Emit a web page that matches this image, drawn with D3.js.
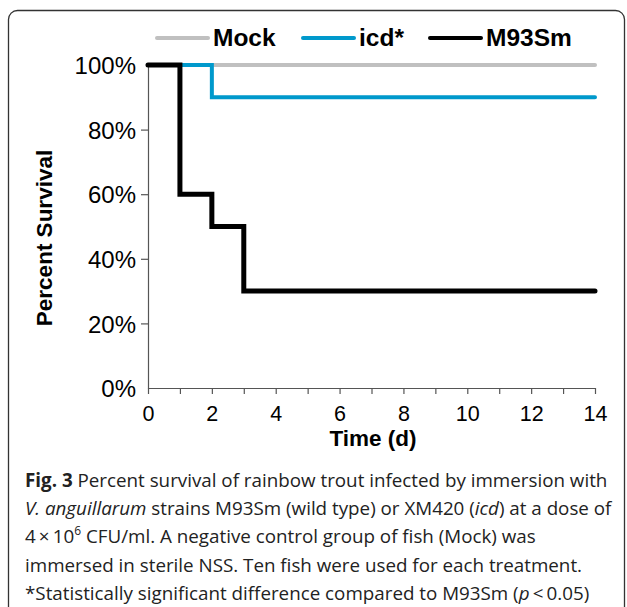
<!DOCTYPE html>
<html>
<head>
<meta charset="utf-8">
<script src="https://cdn.jsdelivr.net/npm/d3@7"></script>
<style>
  body { margin: 0; background: #fff; }
  svg { display: block; }
</style>
</head>
<body>
<div id="chart"></div>
<script>
// survival data, step curves (day, percent)
const days = [0, 1, 2, 3, 14];
const mock = [100, 100, 100, 100, 100];
const icd = [100, 100, 90, 90, 90];
const m93 = [100, 60, 50, 30, 30];
const seriesNames = ["Mock", "icd*", "M93Sm"];
const seriesColors = ["#c0c0c0", "#0099cc", "#000000"];
const xTickLabels = [0, 2, 4, 6, 8, 10, 12, 14];
const yTickLabels = [0, 20, 40, 60, 80, 100];

const captionLines = [
  [["Fig. 3", "b"], [" Percent survival of rainbow trout infected by immersion with", ""]],
  [["V. anguillarum", "i"], [" strains M93Sm (wild type) or XM420 (", ""], ["icd", "i"], [") at a dose of", ""]],
  [["4\u2009\u00d7\u200910", ""], ["6", "sup"], [" CFU/ml. A negative control group of fish (Mock) was", ""]],
  [["immersed in sterile NSS. Ten fish were used for each treatment.", ""]],
  [["*Statistically significant difference compared to M93Sm (", ""], ["p", "i"], ["\u2009<\u20090.05)", ""]]
];

const W = 627, H = 607;
const margin = {top: 65, right: 32, bottom: 219, left: 148};
const width = W - margin.left - margin.right,
      height = H - margin.top - margin.bottom;
const font = "'Liberation Sans', Arial, sans-serif";

const svg = d3.select("#chart").append("svg")
    .attr("width", W)
    .attr("height", H);

// frame
svg.append("rect")
    .attr("x", 8.5).attr("y", 10.5)
    .attr("width", 616).attr("height", 610)
    .attr("rx", 9)
    .attr("fill", "none")
    .attr("stroke", "#333")
    .attr("stroke-width", 1.3);

const g = svg.append("g")
    .attr("transform", "translate(" + margin.left + "," + margin.top + ")");

const x = d3.scaleLinear().domain([0, 14]).range([0, width]);
const y = d3.scaleLinear().domain([0, 100]).range([height, 0]);

// axes
const xAxis = g.append("g")
    .attr("transform", "translate(0," + height + ")")
    .call(d3.axisBottom(x).tickValues(d3.range(0, 15)).tickSize(6).tickSizeOuter(0)
      .tickFormat(d => xTickLabels.includes(d) ? d : ""));
const yAxis = g.append("g")
    .call(d3.axisLeft(y).tickValues(yTickLabels).tickSize(7).tickSizeOuter(0)
      .tickFormat(d => d + "%"));

[xAxis, yAxis].forEach(a => {
  a.select(".domain").attr("stroke", "#555").attr("stroke-width", 1.2);
  a.selectAll(".tick line").attr("stroke", "#555").attr("stroke-width", 1.2);
  a.selectAll("text")
    .attr("fill", "#000")
    .style("font-family", font)
    .style("font-size", "21.5px");
});
xAxis.selectAll("text").attr("dy", null).attr("y", 33);
yAxis.selectAll("text").attr("x", -12).attr("dy", "0.36em").style("font-size", "24px");
yAxis.selectAll(".tick").filter(d => d === 0 || d === 100).select("line").attr("stroke-width", 0);

// lines
const line = d3.line()
    .x(d => x(d[0]))
    .y(d => y(d[1]))
    .curve(d3.curveStepAfter);

const series = [mock, icd, m93];
const widths = [4, 4, 5];
series.forEach((vals, i) => {
  g.append("path")
    .datum(days.map((d, j) => [d, vals[j]]))
    .attr("fill", "none")
    .attr("stroke", seriesColors[i])
    .attr("stroke-width", widths[i])
    .attr("stroke-linecap", "round")
    .attr("d", line);
});

// axis titles
svg.append("text")
    .attr("x", 373)
    .attr("y", 446)
    .attr("text-anchor", "middle")
    .style("font-family", font)
    .style("font-weight", "bold")
    .style("font-size", "22.5px")
    .text("Time (d)");

svg.append("text")
    .attr("transform", "translate(52,238) rotate(-90)")
    .attr("text-anchor", "middle")
    .style("font-family", font)
    .style("font-weight", "bold")
    .style("font-size", "22.5px")
    .text("Percent Survival");

// legend
const legendX = [157, 303, 430];
const legend = svg.append("g");
seriesNames.forEach((name, i) => {
  legend.append("line")
    .attr("x1", legendX[i]).attr("x2", legendX[i] + 51)
    .attr("y1", 38).attr("y2", 38)
    .attr("stroke", seriesColors[i])
    .attr("stroke-width", 4)
    .attr("stroke-linecap", "round");
  legend.append("text")
    .attr("x", legendX[i] + 56)
    .attr("y", 46)
    .style("font-family", font)
    .style("font-weight", "bold")
    .style("font-size", "24.5px")
    .text(name);
});

// caption
const cap = svg.append("g")
    .style("font-family", "'Open Sans', sans-serif")
    .style("font-size", "18.8px")
    .attr("fill", "#222");
captionLines.forEach((parts, i) => {
  const t = cap.append("text").attr("x", 25).attr("y", 487 + i * 28.2);
  parts.forEach((p, k) => {
    const ts = t.append("tspan").text(p[0]);
    if (p[1] === "b") ts.style("font-weight", "bold");
    if (p[1] === "i") ts.style("font-style", "italic");
    if (p[1] === "sup") ts.attr("dy", -8).style("font-size", "12px");
    if (k > 0 && parts[k - 1][1] === "sup") ts.attr("dy", 8);
  });
});
</script>
</body>
</html>
